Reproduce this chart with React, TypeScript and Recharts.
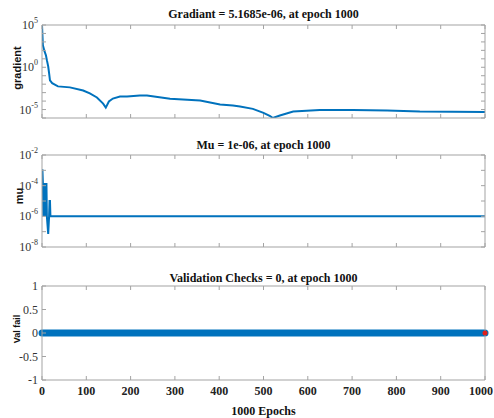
import React from 'react';
import { ComposedChart, Line, Scatter, XAxis, YAxis } from 'recharts';

// training record values
const epochTicks = [0, 100, 200, 300, 400, 500, 600, 700, 800, 900, 1000];

const gradEpochs = [0, 2, 5, 9, 11, 14, 16, 18, 23, 36, 63, 93, 108, 124, 138, 144, 151, 160, 176, 192, 221, 237, 289, 357, 402, 431, 447, 476, 500, 515, 521, 537, 567, 627, 702, 779, 853, 1000];
const gradValues = [1e5, 4e2, 1e2, 2.5e1, 7, 1.3, 2e-1, 2.8e-2, 1.3e-2, 5.5e-3, 4.2e-3, 1.8e-3, 8e-4, 2.7e-4, 5e-5, 1.7e-5, 9e-5, 2e-4, 3.5e-4, 3.5e-4, 4.7e-4, 4.7e-4, 1.9e-4, 1.2e-4, 4e-5, 3e-5, 2.3e-5, 1.2e-5, 4e-6, 1.7e-6, 1e-6, 2e-6, 5.8e-6, 9.1e-6, 9.1e-6, 7.6e-6, 5.8e-6, 5.17e-6];
const gradTicks = [1e5, 1e4, 1e3, 1e2, 1e1, 1e0, 1e-1, 1e-2, 1e-3, 1e-4, 1e-5, 1e-6];
const gradLabels = [5, 0, -5];

const muEpochs = [0, 1, 2, 3, 4, 5, 6, 7, 8, 9, 10, 11, 14, 16, 17, 18, 19, 1000];
const muValues = [1e-3, 1e-3, 1.5e-4, 1e-6, 1.5e-4, 1e-6, 1.5e-4, 1e-6, 1.5e-4, 1e-6, 1.5e-4, 1e-6, 7e-8, 1e-6, 1e-5, 1e-5, 1e-6, 1e-6];
const muTicks = [1e-2, 1e-3, 1e-4, 1e-5, 1e-6, 1e-7, 1e-8];
const muLabels = [-2, -4, -6, -8];

const valEpochs = [0, 1000];
const valChecks = [0, 0];
const valTicks = [1, 0.5, 0, -0.5, -1];
const bestEpoch = [1000];
const bestCheck = [0];

const gradData = gradEpochs.map((e, i) => ({ epoch: e, v: gradValues[i] }));
const muData = muEpochs.map((e, i) => ({ epoch: e, v: muValues[i] }));
const valData = valEpochs.map((e, i) => ({ epoch: e, v: valChecks[i] }));
const bestData = bestEpoch.map((e, i) => ({ epoch: e, v: bestCheck[i] }));

const serif = '"Liberation Serif", "Times New Roman", serif';
const sans = '"Liberation Sans", Arial, sans-serif';
const BOX = '#a3a3a3';
const BLUE = '#0072BD';

const LogTick = (props: any) => {
  const { x, y, payload, labels } = props;
  const e = Math.round(Math.log10(payload.value));
  if (!labels.includes(e)) return <g />;
  return (
    <text x={x} y={y} textAnchor="end" dominantBaseline="central" style={{ fontFamily: serif, fontSize: 12 }} fill="#333">
      <tspan>10</tspan>
      <tspan dy={-5} style={{ fontSize: 8 }}>{e}</tspan>
    </text>
  );
};

const NumTick = (props: any) => {
  const { x, y, payload } = props;
  return (
    <text x={x} y={y} textAnchor="end" dominantBaseline="central" style={{ fontFamily: serif, fontSize: 12 }} fill="#333">
      {payload.value}
    </text>
  );
};

const EpochTick = (props: any) => {
  const { x, y, payload } = props;
  // last label would spill past the page edge, so keep it inside
  const last = payload.value === epochTicks[epochTicks.length - 1];
  return (
    <text x={last ? 493 : x} y={y} textAnchor={last ? 'end' : 'middle'} dominantBaseline="hanging" style={{ fontFamily: serif, fontSize: 12, fontWeight: 'bold' }} fill="#222">
      {payload.value}
    </text>
  );
};

const blank = () => '';

function Title({ text, y }: { text: string; y: number }) {
  return (
    <div style={{ position: 'absolute', left: 42, width: 443, top: y - 8, height: 16, lineHeight: '16px', textAlign: 'center', fontFamily: serif, fontWeight: 'bold', fontSize: 12, color: '#111', whiteSpace: 'nowrap' }}>
      {text}
    </div>
  );
}

function YLabel({ text, x, y, size }: { text: string; x: number; y: number; size: number }) {
  return (
    <div style={{ position: 'absolute', left: x, top: y, transform: 'translate(-50%, -50%) rotate(-90deg)', fontFamily: sans, fontWeight: 'bold', fontSize: size, color: '#111', whiteSpace: 'nowrap', lineHeight: 1 }}>
      {text}
    </div>
  );
}

export default function App() {
  // inward MATLAB-style ticks: negative tick size
  const axisCommon = { stroke: BOX, tickSize: -4, interval: 0 } as any;
  return (
    <div style={{ position: 'absolute', left: 0, top: 0, width: 494, height: 418, background: '#fff', overflow: 'hidden' }}>
      <Title text="Gradiant = 5.1685e-06, at epoch 1000" y={14} />
      <Title text="Mu = 1e-06, at epoch 1000" y={145} />
      <Title text="Validation Checks = 0, at epoch 1000" y={278} />
      <YLabel text="gradient" x={17} y={68} size={11} />
      <YLabel text="mu" x={19} y={196} size={11} />
      <YLabel text="Val fail" x={17} y={329} size={9} />

      <div style={{ position: 'absolute', left: 0, top: 0 }}>
        <ComposedChart width={494} height={130} data={gradData} margin={{ top: 24, right: 8, bottom: 11, left: 41 }}>
          <XAxis xAxisId="b" dataKey="epoch" type="number" domain={[0, 1000]} ticks={epochTicks} height={1} tickFormatter={blank} allowDataOverflow {...axisCommon} />
          <XAxis xAxisId="t" orientation="top" dataKey="epoch" type="number" domain={[0, 1000]} ticks={epochTicks} height={1} tickFormatter={blank} allowDataOverflow {...axisCommon} />
          <YAxis yAxisId="l" type="number" scale="log" domain={[1e-6, 1e5]} ticks={gradTicks} width={1} tickMargin={8} tick={(p: any) => <LogTick {...p} labels={gradLabels} />} allowDataOverflow {...axisCommon} />
          <YAxis yAxisId="r" orientation="right" type="number" scale="log" domain={[1e-6, 1e5]} ticks={gradTicks} width={1} tickFormatter={blank} allowDataOverflow {...axisCommon} />
          <Line xAxisId="b" yAxisId="l" dataKey="v" type="linear" stroke={BLUE} strokeWidth={2} dot={false} isAnimationActive={false} />
        </ComposedChart>
      </div>

      <div style={{ position: 'absolute', left: 0, top: 130 }}>
        <ComposedChart width={494} height={130} data={muData} margin={{ top: 24, right: 8, bottom: 12, left: 41 }}>
          <XAxis xAxisId="b" dataKey="epoch" type="number" domain={[0, 1000]} ticks={epochTicks} height={1} tickFormatter={blank} allowDataOverflow {...axisCommon} />
          <XAxis xAxisId="t" orientation="top" dataKey="epoch" type="number" domain={[0, 1000]} ticks={epochTicks} height={1} tickFormatter={blank} allowDataOverflow {...axisCommon} />
          <YAxis yAxisId="l" type="number" scale="log" domain={[1e-8, 1e-2]} ticks={muTicks} width={1} tickMargin={8} tick={(p: any) => <LogTick {...p} labels={muLabels} />} allowDataOverflow {...axisCommon} />
          <YAxis yAxisId="r" orientation="right" type="number" scale="log" domain={[1e-8, 1e-2]} ticks={muTicks} width={1} tickFormatter={blank} allowDataOverflow {...axisCommon} />
          <Line xAxisId="b" yAxisId="l" dataKey="v" type="linear" stroke={BLUE} strokeWidth={2} dot={false} isAnimationActive={false} />
        </ComposedChart>
      </div>

      <div style={{ position: 'absolute', left: 0, top: 260 }}>
        <ComposedChart width={494} height={158} data={valData} margin={{ top: 25, right: 8, bottom: 37, left: 41 }}>
          <XAxis xAxisId="b" dataKey="epoch" type="number" domain={[0, 1000]} ticks={epochTicks} height={1} tickMargin={10} tick={(p: any) => <EpochTick {...p} />} {...axisCommon} />
          <XAxis xAxisId="t" orientation="top" dataKey="epoch" type="number" domain={[0, 1000]} ticks={epochTicks} height={1} tickFormatter={blank} {...axisCommon} />
          <YAxis yAxisId="l" type="number" domain={[-1, 1]} ticks={valTicks} width={1} tickMargin={8} tick={(p: any) => <NumTick {...p} />} {...axisCommon} />
          <YAxis yAxisId="r" orientation="right" type="number" domain={[-1, 1]} ticks={valTicks} width={1} tickFormatter={blank} {...axisCommon} />
          <Line xAxisId="b" yAxisId="l" dataKey="v" type="linear" stroke={BLUE} strokeWidth={7} strokeLinecap="round" dot={false} isAnimationActive={false} />
          <Scatter xAxisId="b" yAxisId="l" data={bestData} dataKey="v" fill="#e0201b" shape={(p: any) => <circle cx={p.cx} cy={p.cy} r={2.5} fill="#e0201b" />} isAnimationActive={false} />
        </ComposedChart>
      </div>

      <div style={{ position: 'absolute', left: 42, width: 443, top: 405, height: 13, lineHeight: '13px', textAlign: 'center', fontFamily: serif, fontWeight: 'bold', fontSize: 12, color: '#111' }}>
        1000 Epochs
      </div>
    </div>
  );
}
